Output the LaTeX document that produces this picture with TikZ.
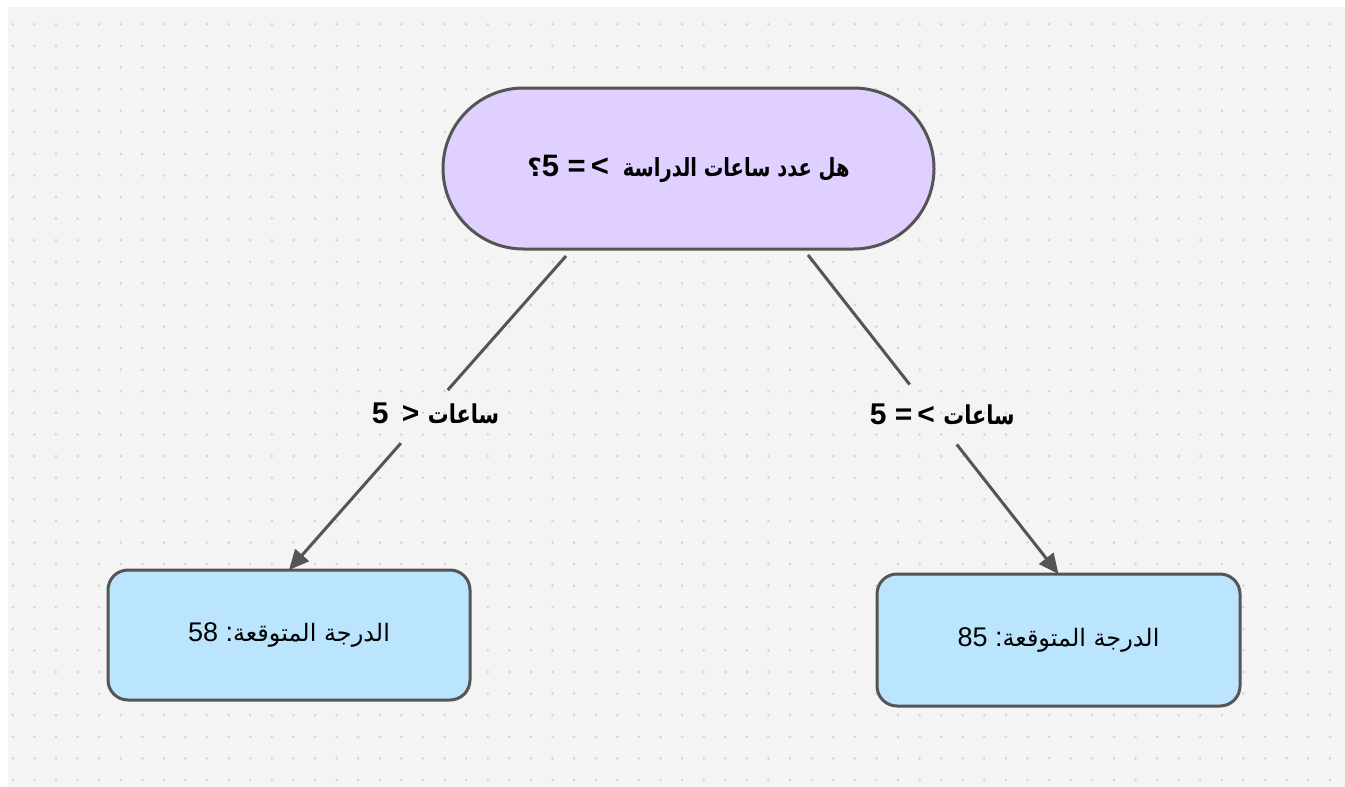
\documentclass[tikz,border=0pt]{standalone}
\usepackage{fontspec}
\setmainfont{Liberation Sans}
\newfontfamily\arabicfont[Script=Arabic]{DejaVu Sans}
\TeXXeTstate=1
\usetikzlibrary{arrows.meta,shapes.misc,calc}
\definecolor{bgc}{HTML}{F4F4F4}
\definecolor{dotc}{HTML}{D6D6D6}
\definecolor{edgec}{HTML}{555555}
\definecolor{decc}{HTML}{E0D0FF}
\definecolor{resc}{HTML}{BBE5FD}
\newcommand{\arsz}[1]{\arabicfont\fontsize{#1}{#1}\selectfont}
\begin{document}
\begin{tikzpicture}[x=1pt,y=-1pt,
  decision/.style={rounded rectangle, draw=edgec, line width=3pt, fill=decc,
    minimum width=491pt, minimum height=161pt, inner sep=0pt, outer sep=0pt,
    font=\bfseries\fontsize{31}{34}\selectfont},
  result/.style={rectangle, rounded corners=20pt, draw=edgec, line width=3pt, fill=resc,
    minimum width=362pt, minimum height=130pt, inner sep=0pt, outer sep=0pt,
    font=\fontsize{27}{32}\selectfont},
  conn/.style={draw=edgec, line width=3pt},
  arr/.style={conn, -{Triangle[length=20pt,width=18pt]}},
  elabel/.style={font=\bfseries\fontsize{30}{32}\selectfont, inner sep=0pt}
]
\fill[white] (0,0) rectangle (1345,787);
\fill[bgc] (8,7) rectangle (1345,787);
\foreach \i in {0,...,61} \foreach \j in {0,...,35}
  \fill[dotc] (12.8+21.59*\i, 24.3+21.59*\j) circle (1.5pt);
\useasboundingbox (0,0) rectangle (1345,787);

\node[decision] (q) at (688.5,168.5)
  {{\arsz{25}؟}5 =\,< \,{\arsz{25}\scalebox{0.78}[1]{\beginR هل عدد ساعات الدراسة\endR}}};
\node[result] (lo) at (289,635)
  {58 :{\arsz{24}\beginR الدرجة المتوقعة\endR}};
\node[result, minimum width=363pt, minimum height=132pt] (hi) at (1058.5,640)
  {85 :{\arsz{24}\beginR الدرجة المتوقعة\endR}};

\coordinate (qa) at ($(q.south)+(-122.5,7)$);
\coordinate (qb) at ($(q.south)+(119.5,6)$);

\path (qa) -- (lo.north)
  coordinate[pos=0.427] (la) coordinate[pos=0.596] (lb)
  node[elabel, pos=0.5, xshift=8pt] (ll) {5\, > {\arsz{26}\scalebox{0.8}[1]{\beginR ساعات\endR}}};
\path (qb) -- (hi.north)
  coordinate[pos=0.406] (ra) coordinate[pos=0.594] (rb)
  node[elabel, pos=0.5, xshift=9pt] (rl) {5 =\,< {\arsz{26}\scalebox{0.8}[1]{\beginR ساعات\endR}}};

\draw[conn] (qa) -- (la);
\draw[arr] (lb) -- (lo.north);
\draw[conn] (qb) -- (ra);
\draw[arr] (rb) -- (hi.north);
\end{tikzpicture}
\end{document}
